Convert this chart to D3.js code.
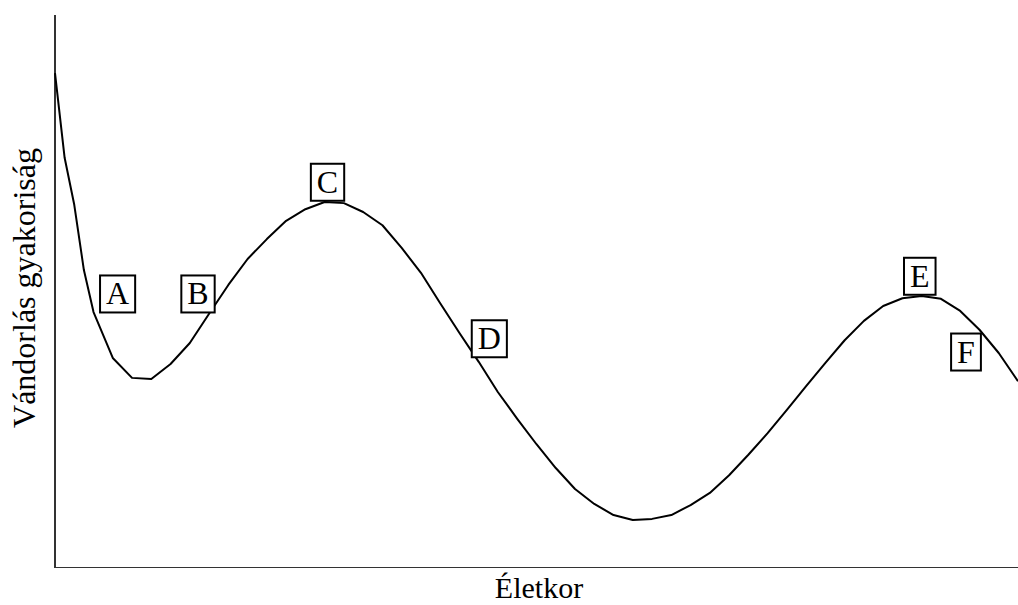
<!DOCTYPE html>
<html lang="hu">
<head>
   <meta charset="utf-8">
   <title>Vándorlás gyakoriság</title>
   <script type="text/javascript" src="https://d3js.org/d3.v7.min.js"></script>
   <style>
      body { margin: 0; background: #fff; }
      .axis path { stroke: #333; stroke-width: 1.5; shape-rendering: crispEdges; }
      text { font-family: "Liberation Serif", "Times New Roman", serif; fill: #000; }
   </style>
</head>
<body>
<div id="chart"></div>
<script type="text/javascript">

   // age (x) and migration frequency (y), relative units
   var ages = [0, 1, 2, 3, 4, 6, 8, 10, 12, 14, 16, 18, 20, 22, 24, 26, 28, 30, 32, 34, 36, 38, 40,
               42, 44, 46, 48, 50, 52, 54, 56, 58, 60, 62, 64, 66, 68, 70, 72, 74, 76, 78, 80,
               82, 84, 86, 88, 90, 92, 94, 96, 98, 100];
   var freq = [89.3, 74.0, 65.5, 53.7, 46.1, 37.8, 34.2, 34.0, 36.7, 40.5, 45.8, 51.0, 55.7, 59.3, 62.6, 64.7, 66.0, 65.8, 64.2, 61.8, 57.7, 53.2, 47.7,
               42.3, 37.1, 31.6, 26.8, 22.2, 17.9, 14.1, 11.4, 9.4, 8.5, 8.7, 9.4, 11.2, 13.4, 16.6, 20.3, 24.2, 28.4, 32.7, 36.9,
               41.0, 44.5, 47.2, 48.6, 49.0, 48.5, 46.3, 42.9, 38.7, 33.6];

   // boxed stage labels
   var labelText = ["A", "B", "C", "D", "E", "F"];
   var labelAge  = [6.5, 14.85, 28.3, 45.1, 89.8, 94.6];
   var labelFreq = [49.5, 49.5, 69.7, 41.4, 52.7, 39.0];

   var width = 1018, height = 605;
   var margin = {top: 14, right: 0, bottom: 38, left: 55};

   var svg = d3.select("#chart")
               .append("svg")
               .attr("width", width)
               .attr("height", height);

   var x = d3.scaleLinear()
             .domain([0, 100])
             .range([margin.left, width - margin.right]);

   var y = d3.scaleLinear()
             .domain([0, 100])
             .range([height - margin.bottom, margin.top]);

   // axes: just the lines, no ticks
   svg.append("g")
      .attr("class", "axis")
      .attr("transform", "translate(" + (margin.left - 0.5) + ",0)")
      .call(d3.axisLeft(y).tickValues([]).tickSizeOuter(0));

   svg.append("g")
      .attr("class", "axis")
      .attr("transform", "translate(-1," + (height - margin.bottom) + ")")
      .call(d3.axisBottom(x).tickValues([]).tickSizeOuter(0));

   // curve
   var pts = ages.map(function(a, i){ return [a, freq[i]]; });
   var line = d3.line()
                .x(function(d){ return x(d[0]); })
                .y(function(d){ return y(d[1]); });

   svg.append("path")
      .datum(pts)
      .attr("d", line)
      .attr("fill", "none")
      .attr("stroke", "#000")
      .attr("stroke-width", 2)
      .attr("stroke-linejoin", "round");

   // boxed labels
   var lab = svg.selectAll("g.lab")
                .data(labelText)
                .enter()
                .append("g")
                .attr("class", "lab")
                .attr("transform", function(d, i){ return "translate(" + x(labelAge[i]) + "," + y(labelFreq[i]) + ")"; });

   lab.append("text")
      .attr("text-anchor", "middle")
      .attr("dy", "0.35em")
      .style("font-size", "32px")
      .text(function(d){ return d; });

   lab.each(function(){
      var g = d3.select(this);
      var bb = g.select("text").node().getBBox();
      g.insert("rect", "text")
       .attr("x", bb.x - 6)
       .attr("y", bb.y)
       .attr("width", bb.width + 12)
       .attr("height", bb.height + 1)
       .attr("fill", "#fff")
       .attr("stroke", "#000")
       .attr("stroke-width", 2);
   });

   // axis titles
   svg.append("text")
      .attr("x", 539)
      .attr("y", 598)
      .attr("text-anchor", "middle")
      .style("font-size", "30px")
      .text("Életkor");

   svg.append("text")
      .attr("transform", "translate(35,288) rotate(-90)")
      .attr("text-anchor", "middle")
      .style("font-size", "32px")
      .text("Vándorlás gyakoriság");

</script>
</body>
</html>
